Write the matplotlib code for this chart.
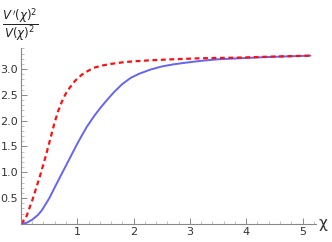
import matplotlib
matplotlib.use('Agg')
import matplotlib.pyplot as plt
from matplotlib.ticker import MultipleLocator

# values
chi_blue = [0, 0.1, 0.2, 0.3, 0.37, 0.5, 0.63, 0.72, 0.81, 0.9, 0.99, 1.08, 1.17, 1.3,
            1.42, 1.52, 1.65, 1.8, 1.95, 2.1, 2.3, 2.5, 2.7, 2.9, 3.2, 3.5, 3.9, 4.3,
            4.7, 5.14]
ratio_blue = [0, 0.02, 0.08, 0.17, 0.26, 0.49, 0.77, 0.96, 1.15, 1.34, 1.53, 1.71, 1.88,
              2.09, 2.26, 2.39, 2.55, 2.71, 2.83, 2.91, 2.99, 3.05, 3.09, 3.12, 3.16,
              3.19, 3.21, 3.23, 3.245, 3.26]

chi_red = [0, 0.05, 0.1, 0.2, 0.34, 0.45, 0.6, 0.66, 0.72, 0.78, 0.84, 0.96, 1.08, 1.2,
           1.31, 1.45, 1.6, 1.8, 2.0, 2.3, 2.7, 3.2, 3.8, 4.4, 5.14]
ratio_red = [0, 0.06, 0.15, 0.45, 0.93, 1.35, 1.97, 2.18, 2.35, 2.49, 2.60, 2.77, 2.89,
             2.97, 3.03, 3.07, 3.10, 3.13, 3.15, 3.17, 3.19, 3.21, 3.22, 3.24, 3.26]

xticks = [1, 2, 3, 4, 5]
yticks = [0.5, 1.0, 1.5, 2.0, 2.5, 3.0]

fig = plt.figure(figsize=(3.32, 2.42), dpi=100)
ax = fig.add_axes([0.063, 0.075, 0.889, 0.727])

ax.plot(chi_blue, ratio_blue, color='#6464f5', lw=1.4, solid_capstyle='round')
ax.plot(chi_red, ratio_red, color='#ff1010', lw=1.6, ls=(0, (2.2, 1.6)))

ax.set_xlim(0, 5.24)
ax.set_ylim(0, 3.41)

for s in ['top', 'right']:
    ax.spines[s].set_visible(False)
for s in ['left', 'bottom']:
    ax.spines[s].set_color('#888888')
    ax.spines[s].set_linewidth(0.8)

ax.set_xticks(xticks)
ax.set_yticks(yticks)
ax.set_yticklabels(['%.1f' % t for t in yticks])
ax.xaxis.set_minor_locator(MultipleLocator(0.2))
ax.yaxis.set_minor_locator(MultipleLocator(0.1))
ax.tick_params(which='major', direction='in', length=4, width=0.7, color='#888888',
               labelsize=8, labelcolor='#333333', pad=2)
ax.tick_params(which='minor', direction='in', length=2, width=0.5, color='#aaaaaa')

fig.text(0.985, 0.075, 'χ', fontsize=11, color='#333333', ha='right', va='center')
fig.text(0.062, 0.975, r"$\dfrac{V\,'(\chi)^2}{V(\chi)^2}$", fontsize=8.5,
         color='#222222', ha='center', va='top')

fig.savefig('out.png', dpi=100)
